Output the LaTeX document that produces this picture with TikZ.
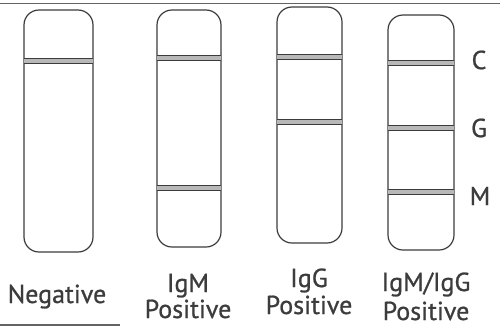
\documentclass[tikz,border=0pt]{standalone}
\usepackage{fontspec}
\setmainfont{PT Sans}[FakeBold=0.8]
\definecolor{ink}{HTML}{3C3C3C}
\definecolor{bandfill}{HTML}{B8B8B8}
\begin{document}
\begin{tikzpicture}[x=1pt,y=-1pt,
  stripbox/.style={draw=ink, line width=1.2pt, rounded corners=15pt, inner sep=0pt},
  lbl/.style={text=ink, font=\fontsize{26}{30}\selectfont, anchor=base, inner sep=0pt},
  letter/.style={text=ink, font=\fontsize{26}{30}\selectfont, inner sep=0pt}]
\useasboundingbox (0,0) rectangle (500,327);
\fill[white] (0,0) rectangle (500,327);
\draw[ink!80, line width=1pt] (0,3.5) -- (500,3.5);
\draw[ink!80, line width=1.2pt] (0,325) -- (120,325);
% strips
\node[stripbox, minimum width=69pt, minimum height=242pt] (s1) at (58.5,131) {};
\node[stripbox, minimum width=64pt, minimum height=237pt] (s2) at (189,128.5) {};
\node[stripbox, minimum width=65pt, minimum height=236pt] (s3) at (309.5,125) {};
\node[stripbox, minimum width=66pt, minimum height=235pt] (s4) at (421,132.5) {};
% bands
\newcommand{\band}[3]{%
  \fill[bandfill] (#1,#3-2.5) rectangle (#2,#3+2.5);
  \draw[ink, line width=0.7pt] (#1,#3-2.5) -- (#2,#3-2.5);
  \draw[ink, line width=0.7pt] (#1,#3+2.5) -- (#2,#3+2.5);}
\band{24}{93}{61}
\band{157}{221}{58}
\band{157}{221}{188}
\band{277}{342}{57}
\band{277}{342}{122}
\band{388}{454}{63}
\band{388}{454}{128}
\band{388}{454}{192}
% letters
\node[letter] (c) at (479,60) {C};
\node[letter] (g) at (479,128) {G};
\node[letter] (m) at (480,196) {M};
% labels
\node[lbl] (neg) at (57,303) {Negative};
\node[lbl] (igm) at (188,292) {IgM};
\node[lbl] (p1) at (188,318) {Positive};
\node[lbl] (igg) at (309,287) {IgG};
\node[lbl] (p2) at (309,314) {Positive};
\node[lbl] (both) at (426,291) {IgM/IgG};
\node[lbl] (p3) at (426,320) {Positive};
\end{tikzpicture}
\end{document}
